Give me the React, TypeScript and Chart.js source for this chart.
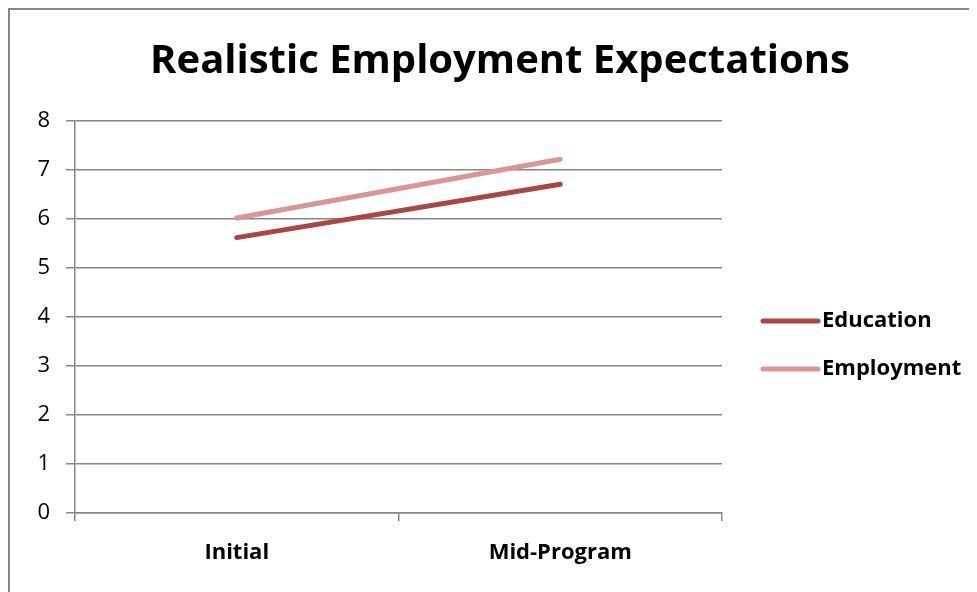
import React, { useEffect, useRef } from "react";
import { Chart, registerables } from "chart.js";

Chart.register(...registerables);

const categories = ["Initial", "Mid-Program"];
const seriesNames = ["Education", "Employment"];
const educationValues = [5.62, 6.71];
const employmentValues = [6.02, 7.22];
const seriesColors = ["#AA4643", "#D99694"];
const yMin = 0;
const yMax = 8;
const yStep = 1;
const titleText = "Realistic Employment Expectations";

const FONT = "'Open Sans', 'DejaVu Sans', sans-serif";
const GRID = "#868686";

const sideLegend = {
  id: "sideLegend",
  afterDraw(chart: any) {
    const ctx = chart.ctx;
    const area = chart.chartArea;
    const x0 = area.right + 41;
    const lineLen = 55;
    const midY = (area.top + area.bottom) / 2;
    ctx.save();
    chart.data.datasets.forEach((ds: any, i: number) => {
      const y = midY + 4 + i * 48;
      ctx.beginPath();
      ctx.strokeStyle = ds.borderColor;
      ctx.lineWidth = ds.borderWidth;
      ctx.lineCap = "round";
      ctx.moveTo(x0, y);
      ctx.lineTo(x0 + lineLen, y);
      ctx.stroke();
      ctx.fillStyle = "#000";
      ctx.font = `bold 22px ${FONT}`;
      ctx.textAlign = "left";
      ctx.textBaseline = "middle";
      ctx.fillText(ds.label, x0 + lineLen + 4, y);
    });
    ctx.restore();
  },
};

export default function App() {
  const ref = useRef<HTMLCanvasElement | null>(null);

  useEffect(() => {
    if (!ref.current) return;
    const chart = new Chart(ref.current, {
      type: "line",
      data: {
        labels: categories,
        datasets: [
          {
            label: seriesNames[0],
            data: educationValues,
            borderColor: seriesColors[0],
            backgroundColor: seriesColors[0],
            borderWidth: 5,
            borderCapStyle: "round",
            pointRadius: 0,
            tension: 0,
            yAxisID: "y",
          },
          {
            label: seriesNames[1],
            data: employmentValues,
            borderColor: seriesColors[1],
            backgroundColor: seriesColors[1],
            borderWidth: 5,
            borderCapStyle: "round",
            pointRadius: 0,
            tension: 0,
            yAxisID: "y",
          },
        ],
      },
      options: {
        responsive: false,
        animation: false,
        devicePixelRatio: 1,
        layout: { padding: { left: 13, right: 0, top: 0, bottom: 0 } },
        plugins: {
          legend: { display: false },
          tooltip: { enabled: false },
          title: {
            display: true,
            text: titleText,
            color: "#000",
            font: { family: FONT, size: 40, weight: "bold", lineHeight: 1.2 },
            padding: { top: 28, bottom: 35 },
          },
        },
        scales: {
          x: {
            type: "category",
            offset: true,
            grid: {
              offset: true,
              drawOnChartArea: false,
              drawTicks: true,
              tickLength: 8,
              color: GRID,
              lineWidth: 1.5,
            },
            border: { display: true, color: GRID, width: 1.5 },
            ticks: {
              color: "#000",
              font: { family: FONT, size: 22, weight: "bold" },
              padding: 19,
              maxRotation: 0,
            },
            afterFit: (s: any) => {
              s.height = 79;
            },
          },
          y: {
            type: "linear",
            position: "left",
            min: yMin,
            max: yMax,
            grid: {
              color: GRID,
              lineWidth: 1.5,
              drawTicks: true,
              tickLength: 9,
            },
            border: { display: true, color: GRID, width: 1.5 },
            ticks: {
              stepSize: yStep,
              color: "#000",
              font: { family: FONT, size: 22 },
              padding: 16,
            },
            afterFit: (s: any) => {
              s.width = 52;
            },
          },
          yr: {
            type: "linear",
            position: "right",
            display: true,
            grid: { display: false, drawTicks: false },
            border: { display: false },
            ticks: { display: false },
            afterFit: (s: any) => {
              s.width = 255;
            },
          },
        },
      },
      plugins: [sideLegend],
    });
    return () => chart.destroy();
  }, []);

  return (
    <div
      style={{
        width: 969,
        height: 584,
        overflow: "hidden",
        boxSizing: "border-box",
        borderLeft: `2px solid ${GRID}`,
        borderTop: `2px solid ${GRID}`,
        background: "#fff",
      }}
    >
      <canvas ref={ref} width={967} height={582} style={{ display: "block" }} />
    </div>
  );
}
